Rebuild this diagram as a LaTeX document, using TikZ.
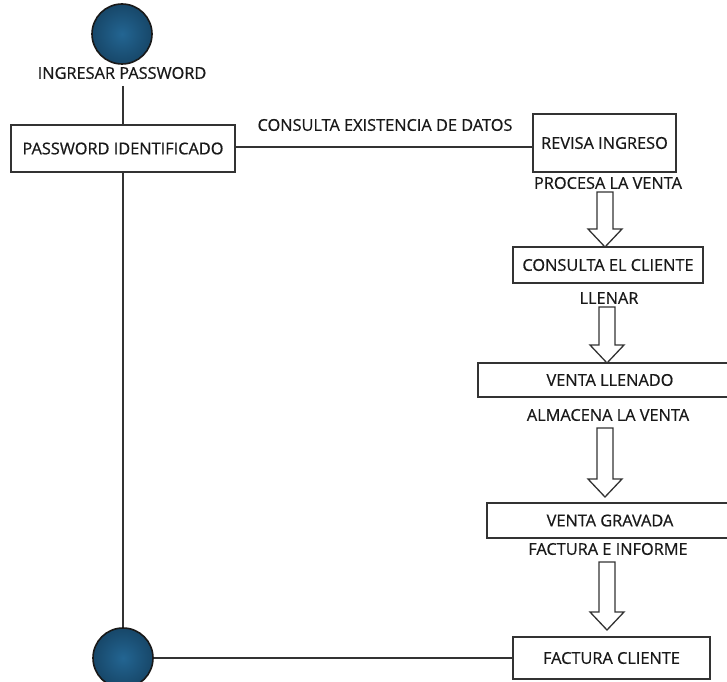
\documentclass[tikz,border=0pt]{standalone}
\usepackage{fontspec}
\setmainfont{Open Sans}[FakeBold=0.6]
\usetikzlibrary{calc}
\definecolor{edge}{HTML}{333333}
\definecolor{dotin}{HTML}{236592}
\definecolor{dotout}{HTML}{174769}
\tikzset{
  txt/.style={font=\fontsize{16.4}{19}\selectfont, text=black!90},
  lbl/.style={txt, inner sep=0pt},
  box/.style={draw=edge, line width=1.3bp, fill=white, txt, inner sep=0pt},
  link/.style={draw=edge, line width=1.3bp},
  blockarrow/.style={draw=edge, line width=1.3bp, fill=white, line join=miter},
  state/.style={circle, minimum size=60bp, inner sep=0pt, draw=black!90, line width=1.6bp, inner color=dotin, outer color=dotout},
}
% hollow block arrow: #1 = x of axis, #2 = y of tail, #3 = y of tip
\newcommand\hollowarrow[3]{%
  \draw[blockarrow] (#1-8,#2) -- (#1+8,#2) -- (#1+8,#3-18) -- (#1+17,#3-18)
    -- (#1,#3) -- (#1-17,#3-18) -- (#1-8,#3-18) -- cycle;}
\begin{document}
\begin{tikzpicture}[x=1bp, y=-1bp]
  \useasboundingbox (0,0) rectangle (727,682);
  \clip (0,0) rectangle (727,682);

  % start and end states
  \node[state] (start) at (122,34) {};
  \node[state] (stop)  at (123,658) {};
  \node[lbl] (ingresar) at (122,73) {INGRESAR PASSWORD};
  \coordinate (ingresarfoot) at (123,86);

  % activity boxes
  \node[box, minimum width=224bp, minimum height=47bp] (pwd) at (123,148.5) {PASSWORD IDENTIFICADO};
  \node[box, minimum width=143bp, minimum height=58bp] (revisa) at (604.5,143) {REVISA INGRESO};
  \node[box, minimum width=190bp, minimum height=36bp] (cliente) at (608,265) {CONSULTA EL CLIENTE};
  \node[box, minimum width=264bp, minimum height=34bp] (llenado) at (610,380) {VENTA LLENADO};
  \node[box, minimum width=246bp, minimum height=35bp] (gravada) at (610,520.5) {VENTA GRAVADA};
  \node[box, minimum width=197bp, minimum height=42bp] (factura) at (611.5,658) {FACTURA CLIENTE};

  % flow labels
  \node[lbl] (consulta) at (385,125) {CONSULTA EXISTENCIA DE DATOS};
  \node[lbl] (procesa) at (608,183) {PROCESA LA VENTA};
  \node[lbl] (llenar) at (609,298) {LLENAR};
  \node[lbl] (almacena) at (608,415) {ALMACENA LA VENTA};
  \node[lbl] (informe) at (608,549) {FACTURA E INFORME};

  % connectors
  \draw[link] (ingresarfoot) -- (pwd.north);
  \draw[link] (pwd.east |- 0,147) -- (revisa.west |- 0,147);
  \draw[link] (pwd.south) -- (stop.north);
  \draw[link] (stop.east) -- (factura.west);

  % hollow arrows between the sales steps
  \hollowarrow{605}{192}{247}
  \hollowarrow{607}{307}{363}
  \hollowarrow{605}{428}{497}
  \hollowarrow{607}{562}{630}
\end{tikzpicture}
\end{document}
